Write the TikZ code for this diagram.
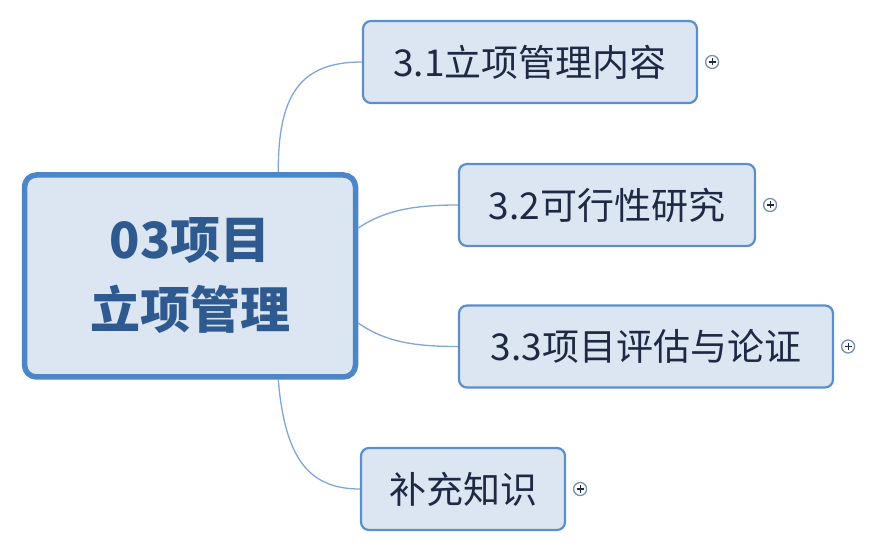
\documentclass[tikz,border=0pt]{standalone}
\usepackage{fontspec}
\usepackage{xcolor}
\newfontfamily\cjk{Noto Sans CJK SC}
\definecolor{boxfill}{HTML}{DCE6F2}
\definecolor{boxline}{HTML}{5B8FCB}
\definecolor{rootline}{HTML}{4A86C8}
\definecolor{roottext}{HTML}{2F5A8F}
\definecolor{kidtext}{HTML}{1E2A44}
\definecolor{linkcol}{HTML}{7EA6D8}
\definecolor{pluscol}{HTML}{7A8FB0}

\begin{document}
\begin{tikzpicture}[x=1pt,y=-1pt,
  rootbox/.style={draw=rootline,line width=5.5pt,fill=boxfill,rounded corners=12pt,
    minimum width=331pt,minimum height=202pt,align=center,text=roottext,
    font=\cjk\bfseries\fontsize{50}{70}\selectfont},
  kidbox/.style={draw=boxline,line width=2.2pt,fill=boxfill,rounded corners=8pt,
    minimum height=82pt,text=kidtext,font=\cjk\fontsize{37}{40}\selectfont},
  link/.style={draw=linkcol,line width=1.3pt},
  plusmark/.style={circle,draw=pluscol,line width=1.3pt,fill=white,minimum size=13pt,inner sep=0pt}]
  \useasboundingbox (0,0) rectangle (871,553);

  \node[rootbox] (root) at (190,276) {03项目\\立项管理};

  \node[kidbox,minimum width=334pt] (k1) at (530,62) {3.1立项管理内容};
  \node[kidbox,minimum width=296pt] (k2) at (607,205) {3.2可行性研究};
  \node[kidbox,minimum width=374pt] (k3) at (646,346.5) {3.3项目评估与论证};
  \node[kidbox,minimum width=204pt] (k4) at (463,489) {补充知识};

  % folded markers
  \foreach \k in {k1,k2,k3,k4}{
    \node[plusmark] (p\k) at ([xshift=14]\k.east) {};
    \draw[kidtext,line width=1.2pt] ([xshift=-3.5pt]p\k.center) -- ([xshift=3.5pt]p\k.center);
    \draw[kidtext,line width=1.2pt] ([yshift=-3.5pt]p\k.center) -- ([yshift=3.5pt]p\k.center);
  }

  % links
  \coordinate (rtop) at ([xshift=-80]root.north east);
  \coordinate (rbot) at ([xshift=-80]root.south east);
  \coordinate (rup) at ([yshift=48]root.east);
  \coordinate (rdn) at ([yshift=-47]root.east);
  \path[link] (rtop) .. controls (278,95) and (300,62) .. (k1.west);
  \path[link] (rup) .. controls (385,210) and (415,205) .. (k2.west);
  \path[link] (rdn) .. controls (385,342) and (415,346.5) .. (k3.west);
  \path[link] (rbot) .. controls (285,460) and (310,489) .. (k4.west);
\end{tikzpicture}
\end{document}
